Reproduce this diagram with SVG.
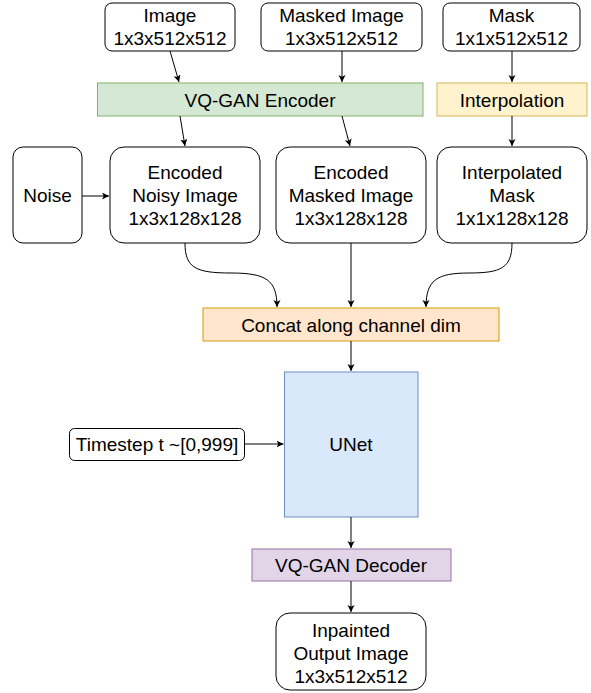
<svg xmlns="http://www.w3.org/2000/svg" width="591" height="693" viewBox="0 0 591 693">
<style>
text{font-family:"Liberation Sans",Arial,sans-serif;font-size:19px;fill:#000;text-anchor:middle}
.box{fill:#fff;stroke:#000;stroke-width:1}
.c{fill:none;stroke:#000;stroke-width:1;marker-end:url(#ah)}
</style>
<defs>
<marker id="ah" markerUnits="userSpaceOnUse" markerWidth="8" markerHeight="8" refX="7" refY="3.5" orient="auto">
<path d="M0,0 L7,3.5 L0,7 L1.8,3.5 z" fill="#000"/>
</marker>
</defs>
<rect width="591" height="693" fill="#fff"/>
<g id="image">
<rect class="box" x="105" y="3" width="130" height="48" rx="7"/>
<text x="170" y="22">Image</text><text x="170" y="45">1x3x512x512</text>
</g>
<g id="masked-image">
<rect class="box" x="261" y="3" width="161" height="48" rx="7"/>
<text x="341.5" y="22">Masked Image</text><text x="341.5" y="45">1x3x512x512</text>
</g>
<g id="mask">
<rect class="box" x="443" y="3" width="137" height="48" rx="7"/>
<text x="511.5" y="22">Mask</text><text x="511.5" y="45">1x1x512x512</text>
</g>
<g id="vqgan-encoder">
<rect x="97.5" y="83" width="325.5" height="33" fill="#d5e8d4" stroke="#82b366"/>
<text x="260" y="106.5">VQ-GAN Encoder</text>
</g>
<g id="interpolation">
<rect x="437" y="83" width="150" height="33" fill="#fff2cc" stroke="#d6b656"/>
<text x="512" y="106.5">Interpolation</text>
</g>
<g id="noise">
<rect class="box" x="13" y="147" width="69" height="96" rx="10"/>
<text x="47.5" y="202">Noise</text>
</g>
<g id="encoded-noisy">
<rect class="box" x="110" y="147" width="150" height="96" rx="14"/>
<text x="185" y="179">Encoded</text><text x="185" y="202">Noisy Image</text><text x="185" y="225">1x3x128x128</text>
</g>
<g id="encoded-masked">
<rect class="box" x="276" y="147" width="150" height="96" rx="14"/>
<text x="351" y="179">Encoded</text><text x="351" y="202">Masked Image</text><text x="351" y="225">1x3x128x128</text>
</g>
<g id="interpolated-mask">
<rect class="box" x="437" y="147" width="150" height="96" rx="14"/>
<text x="512" y="179">Interpolated</text><text x="512" y="202">Mask</text><text x="512" y="225">1x1x128x128</text>
</g>
<g id="concat">
<rect x="203" y="308" width="296" height="33" fill="#ffe6cc" stroke="#d79b00"/>
<text x="351" y="331.5">Concat along channel dim</text>
</g>
<g id="unet">
<rect x="284.5" y="372" width="133.5" height="145" fill="#dae8fc" stroke="#6c8ebf"/>
<text x="351" y="451">UNet</text>
</g>
<g id="timestep">
<rect class="box" x="69.5" y="428.5" width="175" height="32" rx="5"/>
<text x="157" y="451">Timestep t ~[0,999]</text>
</g>
<g id="vqgan-decoder">
<rect x="252" y="549" width="199" height="32" fill="#e1d5e7" stroke="#9673a6"/>
<text x="351" y="572">VQ-GAN Decoder</text>
</g>
<g id="inpainted">
<rect class="box" x="276" y="613" width="150" height="77" rx="14"/>
<text x="351" y="637">Inpainted</text><text x="351" y="660">Output Image</text><text x="351" y="683">1x3x512x512</text>
</g>
<g id="connectors">
<path class="c" d="M170,51 L179,82"/>
<path class="c" d="M180,116 L185,146"/>
<path class="c" d="M342,51 L342,82"/>
<path class="c" d="M342,116 L350,146"/>
<path class="c" d="M512,51 L512,82"/>
<path class="c" d="M512,116 L512,146"/>
<path class="c" d="M82,196 L109,196"/>
<path class="c" d="M185,243 C185,268 196,273 231,273 C266,273 277,280 277,307"/>
<path class="c" d="M351,243 L351,307"/>
<path class="c" d="M512,243 C512,268 501,273 469,273 C437,273 426,280 426,307"/>
<path class="c" d="M351,341 L351,371"/>
<path class="c" d="M244.5,444 L283.5,444"/>
<path class="c" d="M351,517 L351,548"/>
<path class="c" d="M351,581 L351,612"/>
</g>
</svg>
